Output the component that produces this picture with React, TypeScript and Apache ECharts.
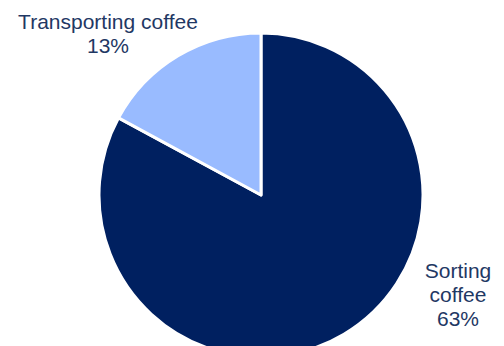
import React, { useEffect, useRef } from "react";
import * as echarts from "echarts";

const categories = ["Sorting\ncoffee", "Transporting coffee"];
const values = [63, 13];
const colors = ["#002060", "#99BBFF"];

export default function App() {
  const ref = useRef<HTMLDivElement>(null);
  useEffect(() => {
    if (!ref.current) return;
    const chart = echarts.init(ref.current, undefined, { renderer: "svg" });
    const labelPos = [
      { x: 458, y: 294 },
      { x: 108, y: 33 },
    ];
    chart.setOption({
      animation: false,
      series: [
        {
          type: "pie",
          center: [261, 195],
          radius: 162,
          startAngle: 90,
          clockwise: true,
          data: categories.map((c, i) => ({
            name: c,
            value: values[i],
            itemStyle: { color: colors[i] },
          })),
          itemStyle: { borderColor: "#ffffff", borderWidth: 3 },
          label: {
            show: true,
            position: "outside",
            formatter: "{b}\n{c}%",
            color: "#1F3864",
            fontFamily: "Liberation Sans, Arial, sans-serif",
            fontSize: 21,
            lineHeight: 24,
            align: "center",
            overflow: "none",
            width: 400,
          },
          labelLine: { show: false },
          labelLayout: (params: any) => ({
            x: labelPos[params.dataIndex].x,
            y: labelPos[params.dataIndex].y,
            align: "center",
            verticalAlign: "middle",
          }),
          emphasis: { disabled: true },
        },
      ],
    });
    return () => chart.dispose();
  }, []);
  return <div ref={ref} style={{ width: 504, height: 346, position: "absolute", left: 0, top: 0 }} />;
}
